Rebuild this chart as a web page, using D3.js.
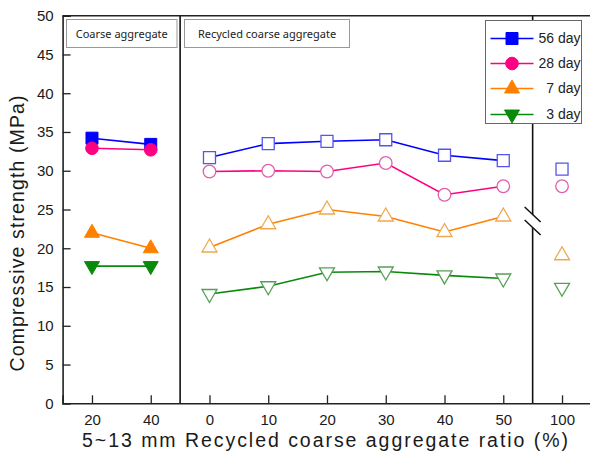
<!DOCTYPE html>
<html>
<head>
<meta charset="utf-8">
<script src="https://cdn.jsdelivr.net/npm/d3@7"></script>
<style>
  html, body { margin: 0; padding: 0; background: #fff; }
  svg { display: block; }
</style>
</head>
<body>
<svg id="chart" width="590" height="458"></svg>
<script>
// ---- data ----
const xLabels = ["20", "40", "0", "10", "20", "30", "40", "50", "100"];
const yTicks = [0, 5, 10, 15, 20, 25, 30, 35, 40, 45, 50];
const seriesNames = ["56 day", "28 day", "7 day", "3 day"];
const day56 = [34.2, 33.4, 31.7, 33.5, 33.8, 34.0, 32.0, 31.3, 30.2];
const day28 = [32.9, 32.7, 29.9, 30.0, 29.9, 31.0, 26.9, 28.0, 28.0];
const day7  = [22.0, 20.0, 20.1, 23.1, 25.0, 24.1, 22.1, 24.1, 19.1];
const day3  = [17.7, 17.7, 14.1, 15.1, 16.9, 17.0, 16.5, 16.1, 14.9];
const groupLabels = ["Coarse aggregate", "Recycled coarse aggregate"];
const xTitle = "5~13 mm Recycled coarse aggregate ratio (%)";
const yTitle = "Compressive strength (MPa)";

// ---- layout ----
const svg = d3.select("#chart");
const x = d3.scaleLinear().domain([-0.5, 8.5]).range([62.6, 591.4]);
const y = d3.scaleLinear().domain([0, 50]).range([403.3, 15.7]);
const font = "'Liberation Sans', Arial, sans-serif";

const series = [
  { name: seriesNames[0], values: day56, color: "#0000ff", light: "#5555ee", shape: "square" },
  { name: seriesNames[1], values: day28, color: "#ff0080", light: "#e060a8", shape: "circle" },
  { name: seriesNames[2], values: day7,  color: "#ff8000", light: "#f0a850", shape: "up" },
  { name: seriesNames[3], values: day3,  color: "#0a8a0a", light: "#55a055", shape: "down" }
];

function markerPath(shape) {
  if (shape === "square") return "M-6,-6H6V6H-6Z";
  if (shape === "circle") return d3.symbol(d3.symbolCircle, Math.PI * 6.3 * 6.3)();
  if (shape === "up") return "M0,-8.5L7.5,4.5L-7.5,4.5Z";
  return "M0,8.5L7.5,-4.5L-7.5,-4.5Z";
}

// ---- axes ----
const yAxis = d3.axisLeft(y).tickValues(yTicks).tickSize(-8).tickPadding(9);
const gy = svg.append("g").attr("transform", `translate(${x(-0.5)},0)`).call(yAxis);
gy.selectAll("text").attr("font-size", 15).attr("font-family", font).attr("fill", "#1a1a1a");

const xAxis = d3.axisBottom(x).tickValues(d3.range(xLabels.length))
  .tickFormat(i => xLabels[i]).tickSize(-8).tickPadding(11);
const gx = svg.append("g").attr("transform", `translate(0,${y(0)})`).call(xAxis);
gx.selectAll("text").attr("font-size", 15).attr("font-family", font).attr("fill", "#1a1a1a");

[gx, gy].forEach(g => {
  g.select(".domain").attr("stroke", "#222").attr("stroke-width", 1.6);
  g.selectAll(".tick line").attr("stroke", "#222").attr("stroke-width", 1.3);
});

// top frame line
svg.append("line")
  .attr("x1", x(-0.5)).attr("x2", 590).attr("y1", y(50)).attr("y2", y(50))
  .attr("stroke", "#222").attr("stroke-width", 1.5);

// separators
[1.5, 7.5].forEach(v => {
  svg.append("line")
    .attr("x1", x(v)).attr("x2", x(v)).attr("y1", y(50)).attr("y2", y(0))
    .attr("stroke", "#111").attr("stroke-width", 1.6);
});

// break marks on the right separator
const bx = x(7.5);
svg.append("path")
  .attr("d", `M${bx - 8},${208} L${bx + 8},${222} L${bx + 8},${235} L${bx - 8},${221} Z`)
  .attr("fill", "#fff");
[[207, 222], [220, 235]].forEach(([a, b]) => {
  svg.append("line")
    .attr("x1", bx - 8).attr("y1", a).attr("x2", bx + 8).attr("y2", b)
    .attr("stroke", "#111").attr("stroke-width", 1.5);
});

// ---- group label boxes ----
const boxes = [
  { label: groupLabels[0], x0: 66, x1: 176.5 },
  { label: groupLabels[1], x0: 184, x1: 349 }
];
boxes.forEach(b => {
  svg.append("rect")
    .attr("x", b.x0 + 0.5).attr("y", 19.5).attr("width", b.x1 - b.x0).attr("height", 28)
    .attr("fill", "#fff").attr("stroke", "#999").attr("stroke-width", 1);
  svg.append("text")
    .attr("x", (b.x0 + b.x1) / 2 + 0.5).attr("y", 38)
    .attr("text-anchor", "middle")
    .attr("font-family", "'Noto Sans', 'Open Sans', sans-serif").attr("font-size", 11)
    .attr("fill", "#222").text(b.label);
});

// ---- series ----
const line = d3.line().x(d => x(d.i)).y(d => y(d.v));
series.forEach(s => {
  const pts = s.values.map((v, i) => ({ i, v }));
  const segs = [pts.slice(0, 2), pts.slice(2, 8)];
  segs.forEach(seg => {
    svg.append("path").attr("d", line(seg))
      .attr("fill", "none").attr("stroke", s.color).attr("stroke-width", 1.6);
  });
  pts.forEach(p => {
    const filled = p.i < 2;
    svg.append("path")
      .attr("d", markerPath(s.shape))
      .attr("transform", `translate(${x(p.i)},${y(p.v)})`)
      .attr("fill", filled ? s.color : "#fff")
      .attr("stroke", filled ? s.color : s.light)
      .attr("stroke-width", filled ? 1 : 1.3);
  });
});

// ---- legend ----
svg.append("rect")
  .attr("x", 485.5).attr("y", 20.5).attr("width", 96).attr("height", 103)
  .attr("fill", "#fff").attr("stroke", "#666").attr("stroke-width", 1);
const legRows = [38.5, 63.5, 88.5, 114.5];
series.forEach((s, k) => {
  const ly = legRows[k];
  svg.append("line").attr("x1", 490.5).attr("x2", 533.5).attr("y1", ly).attr("y2", ly)
    .attr("stroke", s.color).attr("stroke-width", 1.6);
  svg.append("path").attr("d", markerPath(s.shape))
    .attr("transform", `translate(512,${ly})`)
    .attr("fill", s.color).attr("stroke", s.color).attr("stroke-width", 1);
  svg.append("text").attr("x", 580.5).attr("y", ly).attr("dy", "0.35em")
    .attr("text-anchor", "end").attr("font-family", font).attr("font-size", 14)
    .attr("fill", "#222").text(s.name);
});

// ---- titles ----
svg.append("text")
  .attr("x", 325).attr("y", 447)
  .attr("text-anchor", "middle")
  .attr("font-family", font).attr("font-size", 19.5)
  .attr("textLength", 486).attr("lengthAdjust", "spacing")
  .attr("fill", "#1a1a1a").text(xTitle);

svg.append("text")
  .attr("transform", `translate(24,${(y(0) + y(50)) / 2 + 24}) rotate(-90)`)
  .attr("text-anchor", "middle")
  .attr("font-family", font).attr("font-size", 19.5)
  .attr("textLength", 276).attr("lengthAdjust", "spacing")
  .attr("fill", "#1a1a1a").text(yTitle);
</script>
</body>
</html>
